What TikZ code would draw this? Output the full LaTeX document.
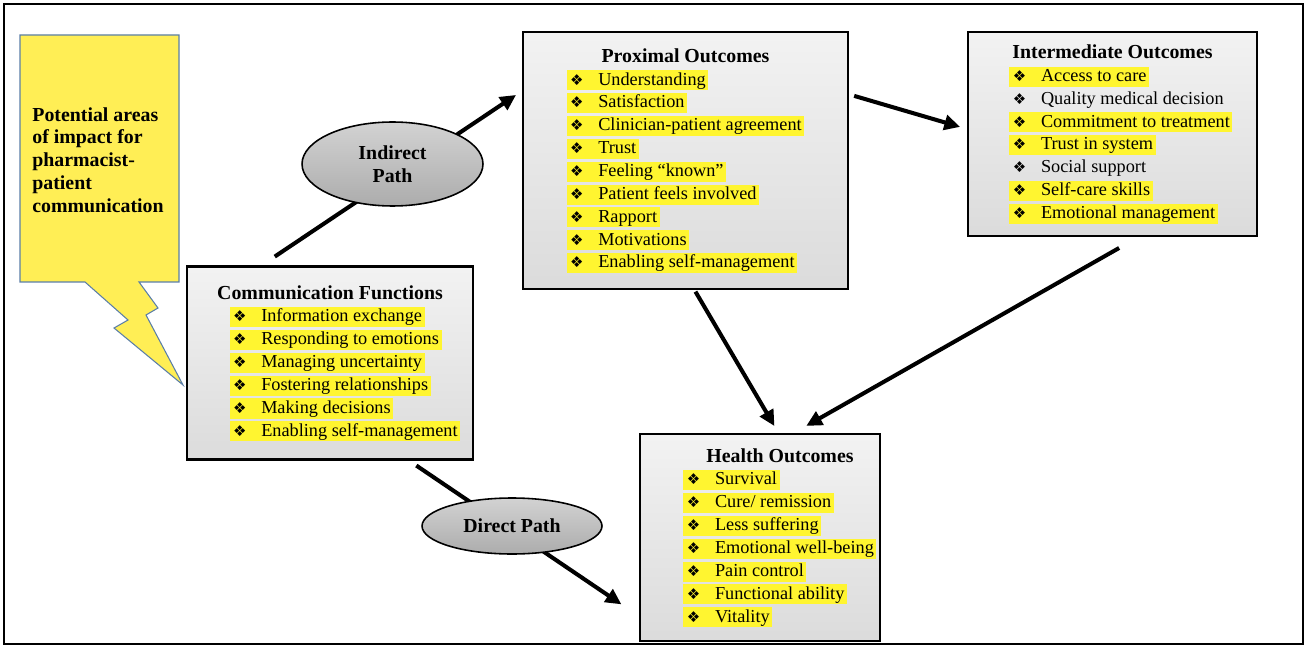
\documentclass[tikz,border=0pt]{standalone}
\usepackage{fontspec}
\setmainfont{Liberation Serif}
\newfontfamily\dingfont{DejaVu Sans}
\usepackage{tikz}
\usetikzlibrary{positioning,shapes,arrows.meta}
\definecolor{hlyellow}{HTML}{FFF530}
\definecolor{calloutyellow}{HTML}{FFEE55}
\definecolor{calloutline}{HTML}{5A7EA8}
\tikzstyle{arrow} = [line width=2.3pt,-{Triangle[length=9pt,width=8.5pt]}]
\tikzstyle{outcome} = [rectangle, draw=black, line width=1.3pt, top color=gray!10, bottom color=gray!28, inner sep=0pt, font=\fontsize{10.4}{13}\selectfont]
\tikzstyle{pathlabel} = [ellipse, draw=black, line width=0.9pt, top color=gray!35, bottom color=gray!65, inner sep=0pt, align=center, font=\bfseries\fontsize{11.3}{13}\selectfont]
\tikzstyle{callout} = [fill=calloutyellow, draw=calloutline, line width=0.6pt, line join=miter]

\setlength{\fboxsep}{0pt}
\newcommand{\bul}{{\dingfont\fontsize{8.5}{8.5}\selectfont ❖}}
\newcommand{\hitem}[1]{\colorbox{hlyellow}{\rule[-3pt]{0pt}{11.4pt}\hspace{2pt}\makebox[16pt][l]{\bul}#1\hspace{1.5pt}}}
\newcommand{\pitem}[1]{\makebox{\rule[-3pt]{0pt}{11.4pt}\hspace{2pt}\makebox[16pt][l]{\bul}#1\hspace{1.5pt}}}
\newcommand{\boxtitle}[2]{\multicolumn{1}{@{\hspace{#1}}c@{}}{\bfseries\fontsize{11.3}{13}\selectfont #2}}

\begin{document}
\begin{tikzpicture}[x=0.02cm, y=-0.02cm]
	\useasboundingbox (0,0) rectangle (1307,648);
	\draw[line width=1pt] (4,4) rectangle (1303,644);

	% callout
	\draw[callout] (20,35) -- (179,35) -- (179,282) -- (139,282) -- (158,308) -- (146,315) -- (183,385)
		-- (114,328) -- (128,320) -- (85,282) -- (20,282) -- cycle;
	\node (impact) [align=left, font=\bfseries\fontsize{11.3}{13}\selectfont] at (98,160)
		{Potential areas\\of impact for\\pharmacist-\\patient\\communication};

	\node (comm) [outcome, minimum width=5.72cm, minimum height=3.86cm] at (330,363) {%
		\begin{tabular}{@{\hspace{17pt}}l@{}}
			\boxtitle{0pt}{Communication Functions}\\
			\hitem{Information exchange}\\
			\hitem{Responding to emotions}\\
			\hitem{Managing uncertainty}\\
			\hitem{Fostering relationships}\\
			\hitem{Making decisions}\\
			\hitem{Enabling self-management}
		\end{tabular}};
	\node (prox) [outcome, minimum width=6.5cm, minimum height=5.14cm] at (685.5,160.5) {%
		\begin{tabular}{@{}l@{}}
			\boxtitle{0pt}{Proximal Outcomes}\\
			\hitem{Understanding}\\
			\hitem{Satisfaction}\\
			\hitem{Clinician-patient agreement}\\
			\hitem{Trust}\\
			\hitem{Feeling “known”}\\
			\hitem{Patient feels involved}\\
			\hitem{Rapport}\\
			\hitem{Motivations}\\
			\hitem{Enabling self-management}
		\end{tabular}};
	\node (inter) [outcome, minimum width=5.78cm, minimum height=4.08cm] at (1112.5,134) {%
		\begin{tabular}{@{\hspace{9.6pt}}l@{}}
			\boxtitle{0pt}{Intermediate Outcomes}\\
			\hitem{Access to care}\\
			\pitem{Quality medical decision}\\
			\hitem{Commitment to treatment}\\
			\hitem{Trust in system}\\
			\pitem{Social support}\\
			\hitem{Self-care skills}\\
			\hitem{Emotional management}
		\end{tabular}};
	\node (health) [outcome, minimum width=4.8cm, minimum height=4.14cm] at (760,537.5) {%
		\begin{tabular}{@{\hspace{22.7pt}}l@{}}
			\boxtitle{22.7pt}{Health Outcomes}\\
			\hitem{Survival}\\
			\hitem{Cure/ remission}\\
			\hitem{Less suffering}\\
			\hitem{Emotional well-being}\\
			\hitem{Pain control}\\
			\hitem{Functional ability}\\
			\hitem{Vitality}
		\end{tabular}};

	\draw[arrow, shorten <=9pt, shorten >=4pt] (comm.125.5) -- (prox.157.1);
	\draw[arrow, shorten <=3pt, shorten >=4pt] (prox.22.4) -- (inter.178.4);
	\draw[arrow, shorten <=1pt, shorten >=4.5pt] (prox.-86.9) -- (health.80.7);
	\draw[arrow, shorten <=12.5pt, shorten >=8pt] (inter.-76.5) -- (health.72.4);
	\draw[arrow, shorten <=5pt, shorten >=12pt] (comm.-51) -- (health.213.5);

	\node (indirect) [pathlabel, minimum width=3.62cm, minimum height=1.68cm] at (392.5,164) {Indirect\\Path};
	\node (direct) [pathlabel, minimum width=3.6cm, minimum height=1.12cm] at (512,526) {Direct Path};
\end{tikzpicture}
\end{document}
